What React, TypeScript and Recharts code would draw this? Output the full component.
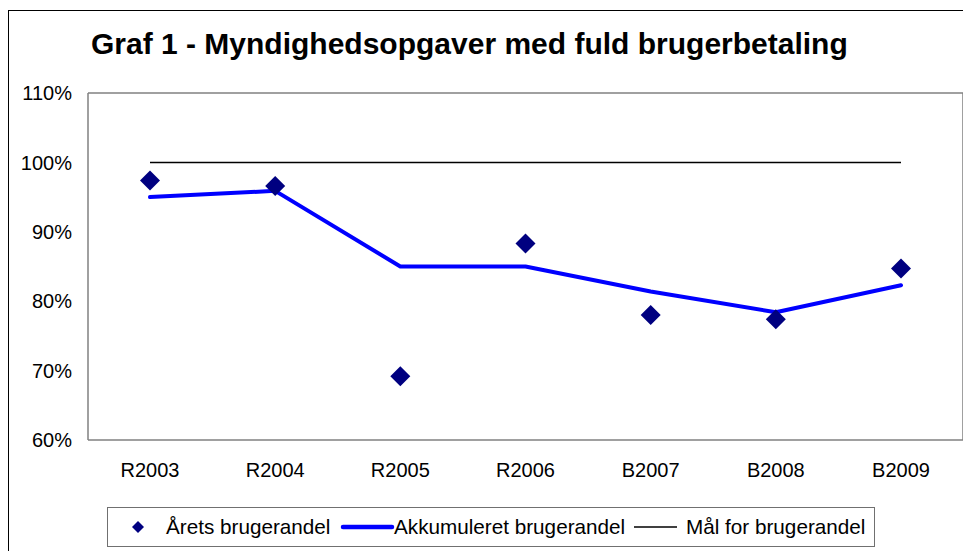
import React from "react";
import { ComposedChart, Line, XAxis, YAxis } from "recharts";

const categories = ["R2003", "R2004", "R2005", "R2006", "B2007", "B2008", "B2009"];
const aretsBrugerandel = [97.4, 96.6, 69.2, 88.3, 78.0, 77.4, 84.7];
const akkumuleretBrugerandel = [95.0, 95.9, 85.0, 85.0, 81.4, 78.4, 82.3];
const maalForBrugerandel = [100, 100, 100, 100, 100, 100, 100];
const yTicks = [60, 70, 80, 90, 100, 110];

const title = "Graf 1 - Myndighedsopgaver med fuld brugerbetaling";
const seriesNames = ["Årets brugerandel", "Akkumuleret brugerandel", "Mål for brugerandel"];

const data = categories.map((c, i) => ({
  cat: c,
  arets: aretsBrugerandel[i],
  akk: akkumuleretBrugerandel[i],
  maal: maalForBrugerandel[i],
}));

const FONT = "'Liberation Sans', Arial, sans-serif";
const BORDER = { stroke: "#808080", strokeWidth: 1.5 };
const PAD = { left: 62, right: 62 };

const Diamond = (props: any) => {
  const { cx, cy } = props;
  if (cx == null || cy == null) return null;
  const r = 10;
  return (
    <path
      d={`M${cx},${cy - r} L${cx + r},${cy} L${cx},${cy + r} L${cx - r},${cy} Z`}
      fill="#000080"
      stroke="none"
    />
  );
};

const legendText: React.CSSProperties = {
  position: "absolute",
  top: 0,
  height: "100%",
  display: "flex",
  alignItems: "center",
  whiteSpace: "nowrap",
};

export default function App() {
  return (
    <div
      style={{
        position: "relative",
        marginTop: 2,
        width: 962,
        height: 540,
        borderTop: "1px solid #000",
        borderLeft: "1px solid #000",
        background: "#fff",
        fontFamily: FONT,
        overflow: "hidden",
      }}
    >
      <div
        style={{
          position: "absolute",
          left: 82,
          top: 16,
          fontSize: 30,
          fontWeight: "bold",
          color: "#000",
          whiteSpace: "nowrap",
        }}
      >
        {title}
      </div>
      <div style={{ position: "absolute", left: 0, top: 0 }}>
        <ComposedChart
          width={962}
          height={470}
          data={data}
          margin={{ top: 81, right: 7, bottom: 11, left: 0 }}
        >
          <XAxis
            dataKey="cat"
            xAxisId="top"
            orientation="top"
            padding={PAD}
            height={1}
            tick={false}
            tickLine={false}
            axisLine={BORDER}
            interval={0}
          />
          <XAxis
            dataKey="cat"
            padding={PAD}
            height={30}
            tickSize={0}
            tickMargin={23}
            tickLine={false}
            axisLine={BORDER}
            tick={{ fill: "#000", fontSize: 20, fontFamily: FONT }}
            interval={0}
          />
          <YAxis
            domain={[60, 110]}
            ticks={yTicks}
            width={79}
            tickSize={0}
            tickMargin={16}
            tickLine={false}
            axisLine={BORDER}
            tick={{ fill: "#000", fontSize: 20, fontFamily: FONT }}
            tickFormatter={(v: number) => `${v}%`}
            interval={0}
          />
          <YAxis
            yAxisId="right"
            orientation="right"
            width={1}
            domain={[60, 110]}
            ticks={yTicks}
            tick={false}
            tickLine={false}
            axisLine={BORDER}
          />
          <Line
            dataKey="maal"
            xAxisId="top"
            stroke="#000"
            strokeWidth={1.5}
            dot={false}
            activeDot={false}
            isAnimationActive={false}
          />
          <Line
            dataKey="akk"
            stroke="#0000FF"
            strokeWidth={4}
            strokeLinecap="round"
            strokeLinejoin="round"
            dot={false}
            activeDot={false}
            isAnimationActive={false}
          />
          <Line
            dataKey="arets"
            yAxisId="right"
            stroke="none"
            dot={<Diamond />}
            activeDot={false}
            isAnimationActive={false}
          />
        </ComposedChart>
      </div>
      <div
        style={{
          position: "absolute",
          left: 98,
          top: 496,
          width: 768,
          height: 40,
          border: "1.5px solid #707070",
          boxSizing: "border-box",
          fontSize: 20.7,
          color: "#000",
        }}
      >
        <svg
          width={14}
          height={14}
          style={{ position: "absolute", left: 23, top: 11.5 }}
        >
          <path d="M7,1 L13,7 L7,13 L1,7 Z" fill="#000080" />
        </svg>
        <span style={{ ...legendText, left: 58 }}>{seriesNames[0]}</span>
        <svg width={56} height={10} style={{ position: "absolute", left: 231, top: 14 }}>
          <line x1={4} y1={5} x2={53} y2={5} stroke="#0000FF" strokeWidth={4.5} strokeLinecap="round" />
        </svg>
        <span style={{ ...legendText, left: 286 }}>{seriesNames[1]}</span>
        <svg width={46} height={10} style={{ position: "absolute", left: 525, top: 14 }}>
          <line x1={1} y1={5} x2={44} y2={5} stroke="#000" strokeWidth={1.5} />
        </svg>
        <span style={{ ...legendText, left: 578 }}>{seriesNames[2]}</span>
      </div>
    </div>
  );
}
